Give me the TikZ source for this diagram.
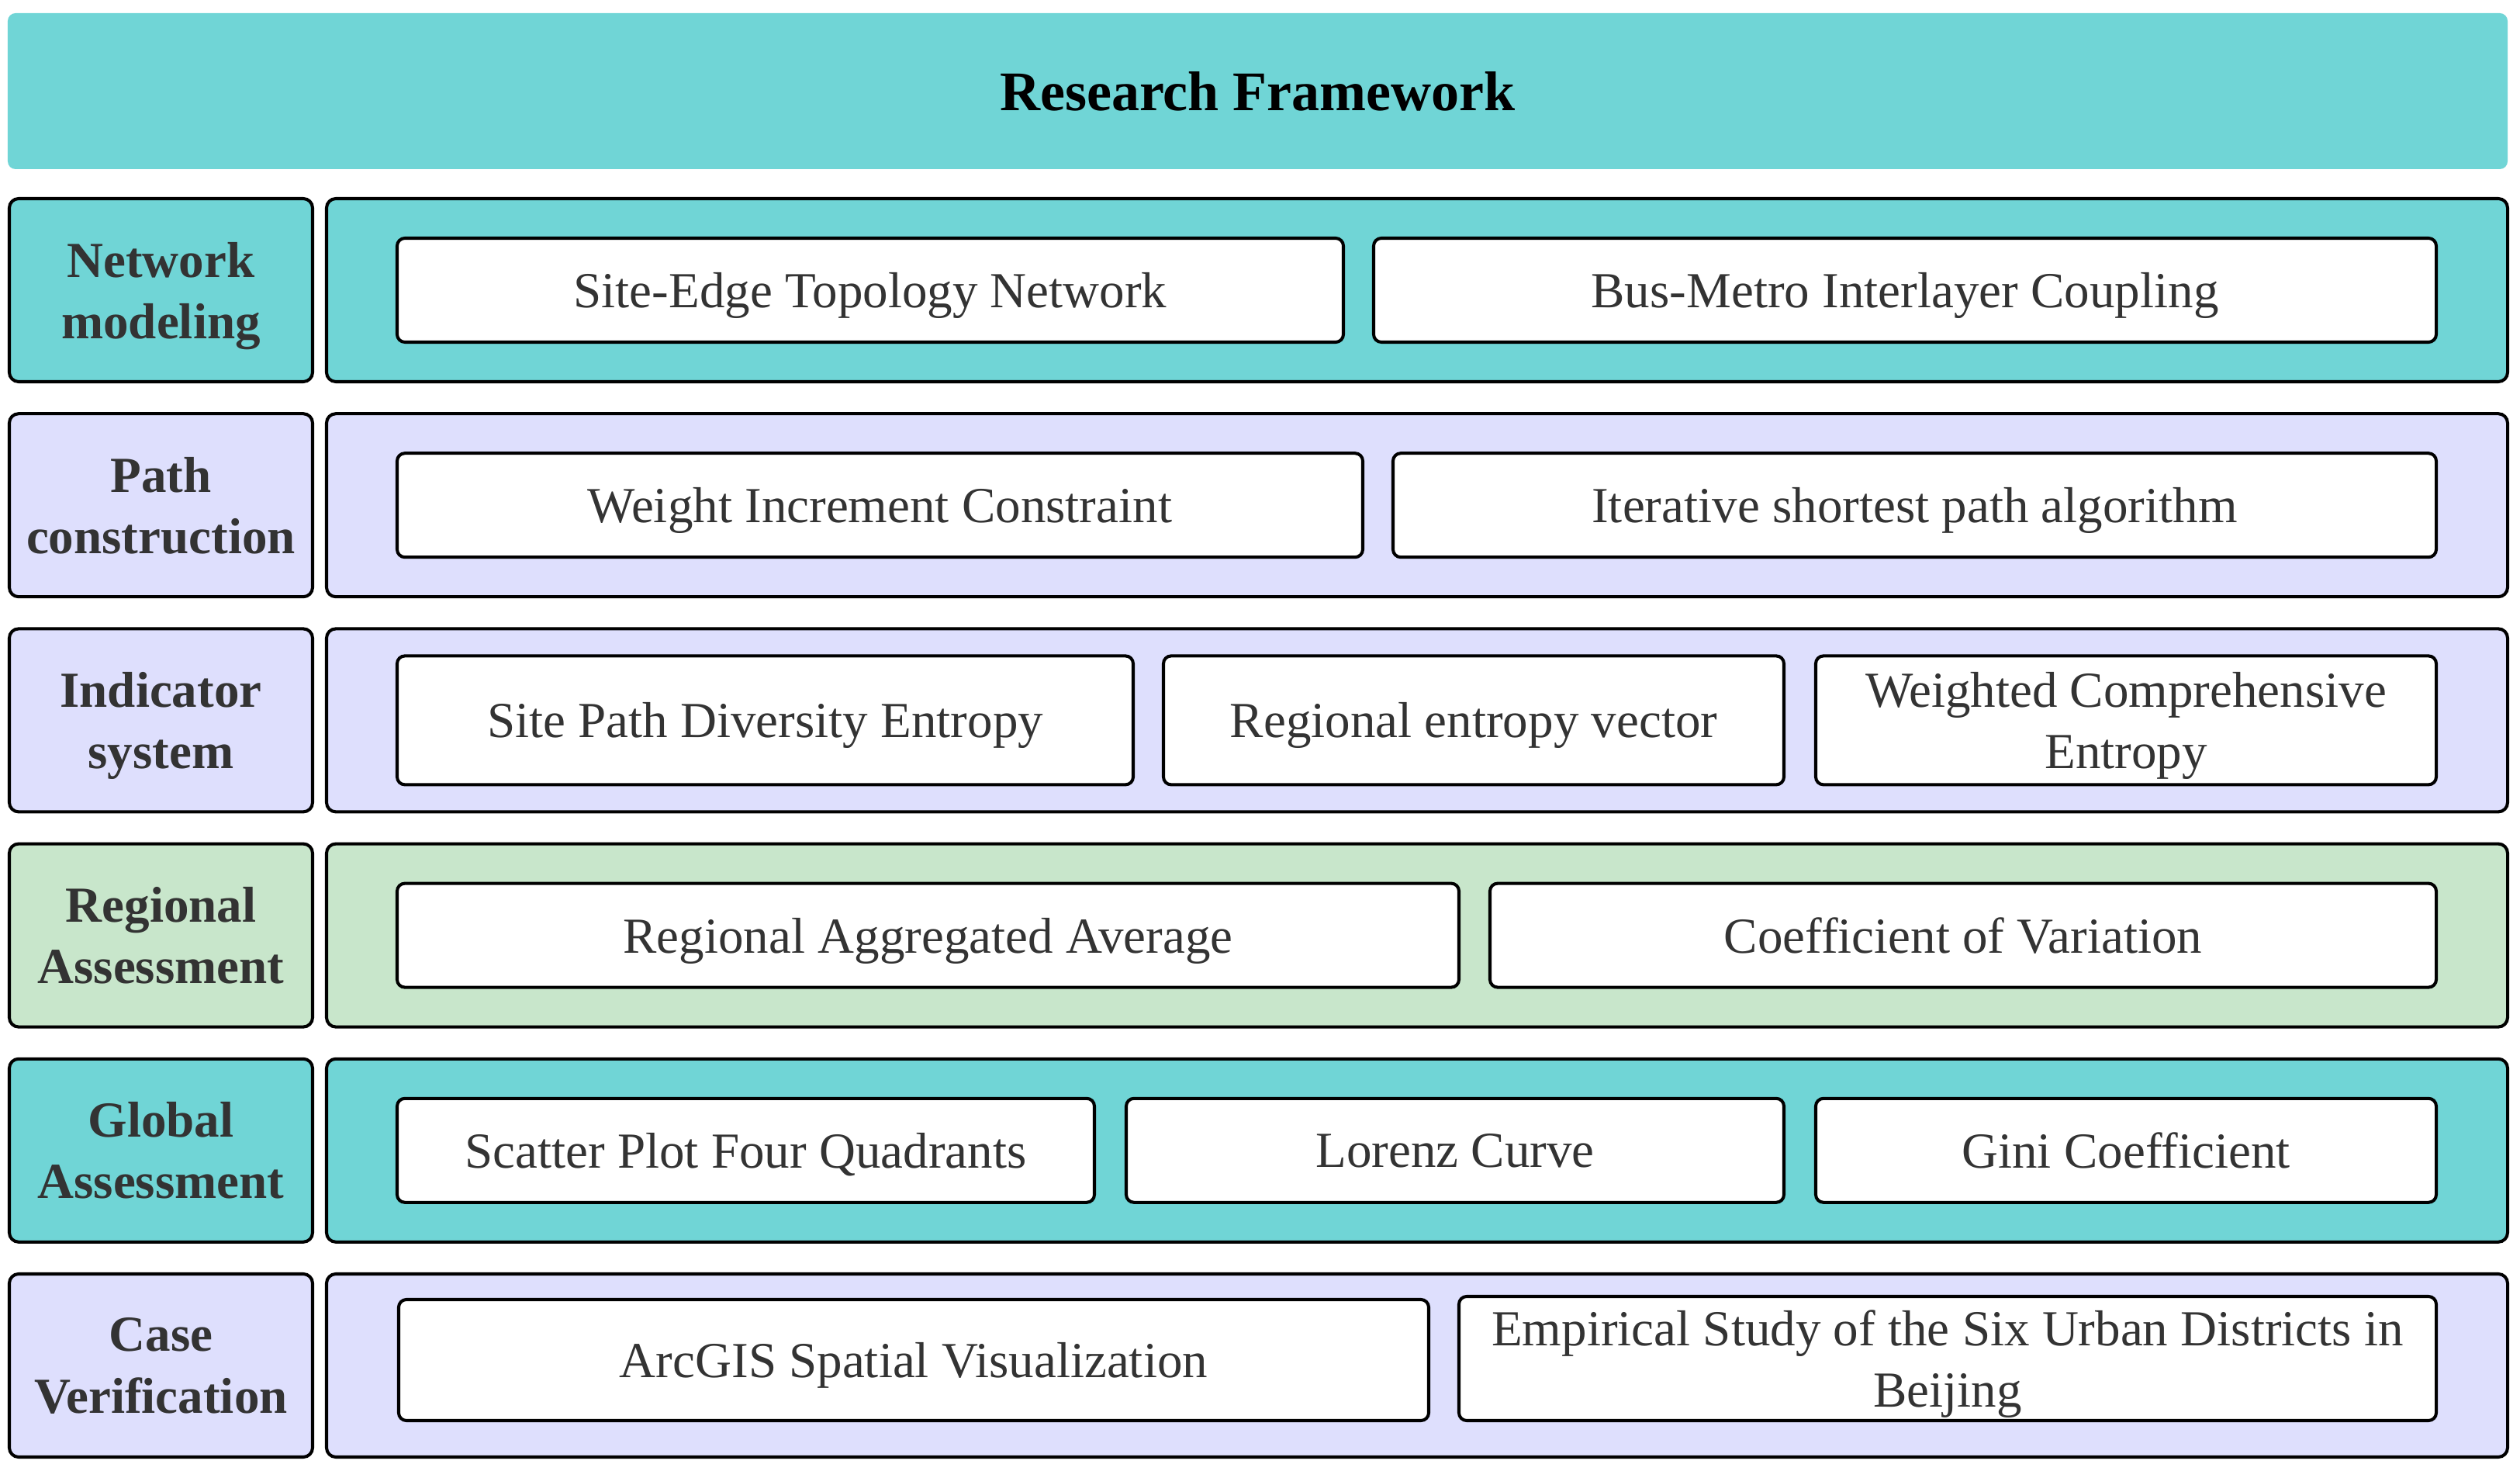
\documentclass[tikz,border=0pt]{standalone}
\usepackage{fontspec}
\setmainfont{Liberation Serif}
\usepackage{tikz}

\definecolor{frameteal}{RGB}{112,213,214}
\definecolor{framelav}{RGB}{222,223,253}
\definecolor{framegreen}{RGB}{200,230,203}
\definecolor{textgray}{RGB}{51,51,51}

\tikzset{
	boxline/.style={draw=black, line width=1.15pt},
	rowlabel/.style={boxline, rounded corners=0.12cm, minimum width=3.91cm, minimum height=2.36cm,
		inner sep=0pt, text depth=0pt, align=center, text=textgray, font=\fontsize{18.5}{22.5}\selectfont\bfseries},
	rowpanel/.style={boxline, rounded corners=0.12cm, minimum width=28.12cm, minimum height=2.36cm, inner sep=0pt},
	item/.style={boxline, fill=white, rounded corners=0.1cm, minimum height=1.34cm, inner sep=0pt, text depth=0pt,
		align=center, text=textgray, font=\fontsize{18.5}{22.5}\selectfont},
}

\begin{document}
\begin{tikzpicture}

	\useasboundingbox (0,0) rectangle (32.49,19.04);

	\node[fill=frameteal, rounded corners=0.1cm, minimum width=32.23cm, minimum height=2.01cm, inner sep=0pt,
		font=\fontsize{20.5}{24}\selectfont\bfseries] (title) at (16.215,17.865) {Research Framework};

	% row labels
	\node[rowlabel, fill=frameteal] (netlab) at (2.075,15.30) {Network\\modeling};
	\node[rowlabel, fill=framelav] (pathlab) at (2.075,12.528) {Path\\construction};
	\node[rowlabel, fill=framelav] (indlab) at (2.075,9.756) {Indicator\\system};
	\node[rowlabel, fill=framegreen] (reglab) at (2.075,6.984) {Regional\\Assessment};
	\node[rowlabel, fill=frameteal] (glolab) at (2.075,4.212) {Global\\Assessment};
	\node[rowlabel, fill=framelav] (caselab) at (2.075,1.44) {Case\\Verification};

	% row panels
	\node[rowpanel, fill=frameteal] (netrow) at (18.27,15.30) {};
	\node[rowpanel, fill=framelav] (pathrow) at (18.27,12.528) {};
	\node[rowpanel, fill=framelav] (indrow) at (18.27,9.756) {};
	\node[rowpanel, fill=framegreen] (regrow) at (18.27,6.984) {};
	\node[rowpanel, fill=frameteal] (glorow) at (18.27,4.212) {};
	\node[rowpanel, fill=framelav] (caserow) at (18.27,1.44) {};

	% items
	\node[item, minimum width=12.20cm] (topo) at (11.22,15.30) {Site-Edge Topology Network};
	\node[item, minimum width=13.70cm] (coupling) at (24.56,15.30) {Bus-Metro Interlayer Coupling};

	\node[item, minimum width=12.45cm] (weight) at (11.345,12.528) {Weight Increment Constraint};
	\node[item, minimum width=13.45cm] (shortest) at (24.685,12.528) {Iterative shortest path algorithm};

	\node[item, minimum width=9.49cm, minimum height=1.66cm] (sitent) at (9.865,9.756) {Site Path Diversity Entropy};
	\node[item, minimum width=8.00cm, minimum height=1.66cm] (regvec) at (19.00,9.756) {Regional entropy vector};
	\node[item, minimum width=8.00cm, minimum height=1.66cm] (wcent) at (27.41,9.756) {Weighted Comprehensive\\Entropy};

	\node[item, minimum width=13.69cm] (aggavg) at (11.965,6.984) {Regional Aggregated Average};
	\node[item, minimum width=12.20cm] (cov) at (25.31,6.984) {Coefficient of Variation};

	\node[item, minimum width=8.99cm] (scatter) at (9.615,4.212) {Scatter Plot Four Quadrants};
	\node[item, minimum width=8.48cm] (lorenz) at (18.76,4.212) {Lorenz Curve};
	\node[item, minimum width=8.00cm] (gini) at (27.41,4.212) {Gini Coefficient};

	\node[item, minimum width=13.28cm, minimum height=1.56cm] (arcgis) at (11.78,1.51) {ArcGIS Spatial Visualization};
	\node[item, minimum width=12.60cm, minimum height=1.60cm] (beijing) at (25.11,1.53) {Empirical Study of the Six Urban Districts in\\Beijing};

\end{tikzpicture}
\end{document}
